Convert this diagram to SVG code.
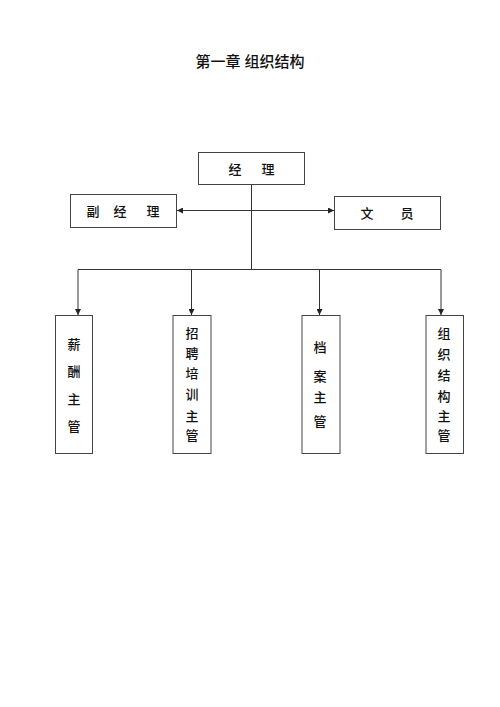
<svg xmlns="http://www.w3.org/2000/svg" width="500" height="707" viewBox="0 0 500 707">
<style>
.box{fill:#fff;stroke:#444;stroke-width:1}
.ln{fill:none;stroke:#333;stroke-width:1}
.t{font-family:"Liberation Sans","Noto Sans CJK SC",sans-serif;font-size:13px;font-weight:500;fill:#111;text-anchor:middle;dominant-baseline:central}
.title{font-family:"Liberation Sans","Noto Sans CJK SC",sans-serif;font-size:15px;font-weight:500;fill:#111;text-anchor:middle;dominant-baseline:central}
</style>
<defs>
<marker id="ah" viewBox="0 0 8 8" refX="8" refY="4" markerWidth="6" markerHeight="6" markerUnits="userSpaceOnUse" orient="auto-start-reverse">
<path d="M0,0 L8,4 L0,8 Z" fill="#222"/>
</marker>
</defs>
<rect width="500" height="707" fill="#fff"/>
<text class="title" x="250" y="61">第一章 组织结构</text>
<g id="connectors">
<line class="ln" x1="251.5" y1="184" x2="251.5" y2="269.5"/>
<line class="ln" x1="177" y1="210.5" x2="334" y2="210.5" marker-start="url(#ah)" marker-end="url(#ah)"/>
<line class="ln" x1="78" y1="269.5" x2="441" y2="269.5"/>
<line class="ln" x1="78" y1="269.5" x2="78" y2="315" marker-end="url(#ah)"/>
<line class="ln" x1="191.5" y1="269.5" x2="191.5" y2="315" marker-end="url(#ah)"/>
<line class="ln" x1="319.5" y1="269.5" x2="319.5" y2="315" marker-end="url(#ah)"/>
<line class="ln" x1="441" y1="269.5" x2="441" y2="315" marker-end="url(#ah)"/>
</g>
<g id="manager">
<rect class="box" x="198.5" y="152.5" width="106" height="32"/>
<text class="t" x="235" y="169">经</text>
<text class="t" x="268" y="169">理</text>
</g>
<g id="deputy">
<rect class="box" x="70.5" y="194.5" width="106" height="33"/>
<text class="t" x="93" y="211">副</text>
<text class="t" x="120" y="211">经</text>
<text class="t" x="153" y="211">理</text>
</g>
<g id="clerk">
<rect class="box" x="334.5" y="196.5" width="106" height="33"/>
<text class="t" x="367" y="213.5">文</text>
<text class="t" x="407" y="213.5">员</text>
</g>
<g id="salary">
<rect class="box" x="55.5" y="315.5" width="37" height="138"/>
<text class="t" x="74" y="344">薪</text>
<text class="t" x="74" y="371.5">酬</text>
<text class="t" x="74" y="399">主</text>
<text class="t" x="74" y="426">管</text>
</g>
<g id="recruit">
<rect class="box" x="173" y="315.5" width="38" height="138"/>
<text class="t" x="192" y="333.5">招</text>
<text class="t" x="192" y="353.5">聘</text>
<text class="t" x="192" y="373.5">培</text>
<text class="t" x="192" y="394.5">训</text>
<text class="t" x="192" y="416">主</text>
<text class="t" x="192" y="435">管</text>
</g>
<g id="archive">
<rect class="box" x="302" y="315.5" width="38" height="138"/>
<text class="t" x="320" y="347">档</text>
<text class="t" x="320" y="376.5">案</text>
<text class="t" x="320" y="397">主</text>
<text class="t" x="320" y="421.5">管</text>
</g>
<g id="org">
<rect class="box" x="426" y="315.5" width="37.5" height="138"/>
<text class="t" x="444" y="333.5">组</text>
<text class="t" x="444" y="354.5">织</text>
<text class="t" x="444" y="375">结</text>
<text class="t" x="444" y="396.5">构</text>
<text class="t" x="444" y="416.5">主</text>
<text class="t" x="444" y="435">管</text>
</g>
</svg>
